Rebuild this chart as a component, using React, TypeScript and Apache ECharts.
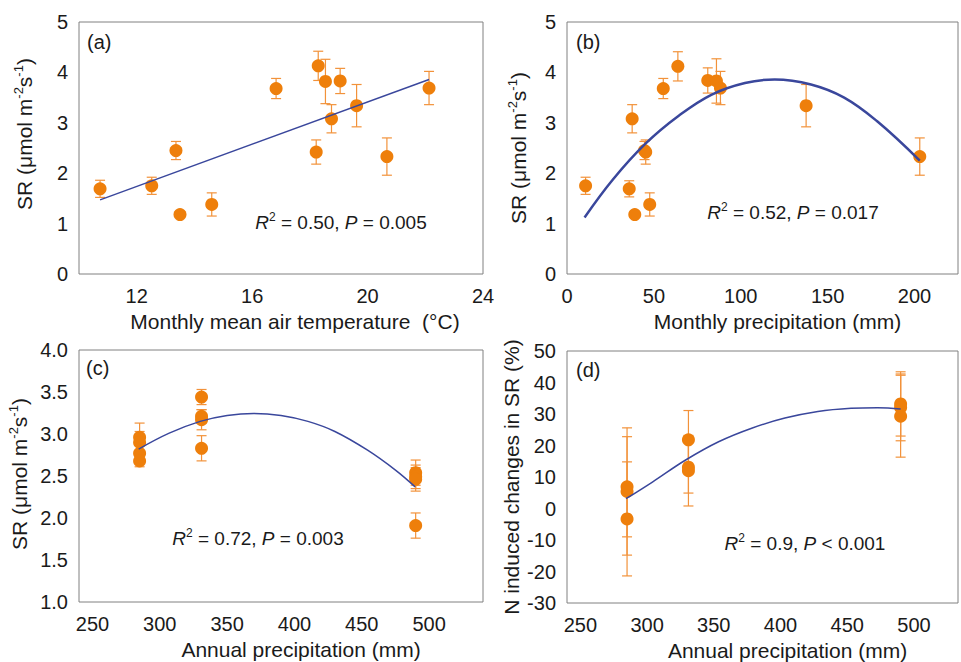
import React, { useEffect, useRef } from "react";
import * as echarts from "echarts";

// Panel (a): SR vs monthly mean air temperature
const aTemp = [10.73, 12.52, 13.36, 13.5, 14.6, 16.83, 18.29, 18.22, 18.54, 18.75, 19.05, 19.62, 20.67, 22.13];
const aSR = [1.69, 1.75, 2.45, 1.18, 1.38, 3.68, 4.13, 2.42, 3.82, 3.08, 3.83, 3.34, 2.33, 3.69];
const aErr = [0.17, 0.17, 0.18, 0.05, 0.23, 0.2, 0.29, 0.24, 0.44, 0.28, 0.25, 0.42, 0.37, 0.33];
const aFitX = [10.73, 22.13];
const aFitY = [1.47, 3.86];

// Panel (b): SR vs monthly precipitation
const bPrecip = [10.7, 35.8, 37.5, 39, 44.6, 45.3, 47.6, 55.4, 63.8, 81, 86, 88.3, 137.6, 203];
const bSR = [1.75, 1.69, 3.08, 1.18, 2.45, 2.42, 1.38, 3.68, 4.12, 3.84, 3.83, 3.69, 3.34, 2.33];
const bErr = [0.17, 0.16, 0.28, 0.05, 0.18, 0.24, 0.23, 0.2, 0.29, 0.25, 0.44, 0.33, 0.42, 0.37];
const bFitX = [10.1, 26.3, 45.3, 64.3, 83.3, 102.4, 119.5, 140.4, 159.5, 178.5, 203];
const bFitY = [1.12, 1.87, 2.59, 3.14, 3.56, 3.79, 3.86, 3.76, 3.5, 3.03, 2.25];

// Panel (c): SR vs annual precipitation
const cPrecip = [285, 285, 285, 285, 331, 331, 331, 331, 490, 490, 490, 490];
const cSR = [2.96, 2.9, 2.77, 2.68, 3.44, 3.21, 3.17, 2.83, 2.54, 2.49, 2.46, 1.91];
const cErr = [0.17, 0.13, 0.1, 0.07, 0.09, 0.08, 0.12, 0.15, 0.15, 0.14, 0.14, 0.15];
const cFitX = [284.3, 307, 330, 350, 369.7, 390, 410, 430, 454, 475, 489.6];
const cFitY = [2.82, 3.01, 3.15, 3.22, 3.245, 3.22, 3.15, 3.03, 2.81, 2.57, 2.37];

// Panel (d): N induced changes in SR vs annual precipitation
const dPrecip = [285, 285, 285, 331, 331, 331, 490, 490, 490];
const dChange = [6.9, 5.4, -3.3, 21.8, 13.1, 12.0, 33.2, 32.1, 29.3];
const dErr = [15.9, 20.2, 18.1, 9.3, 8.2, 11.2, 10.2, 10.6, 13.0];
const dFitX = [284.2, 304, 328.9, 353.6, 378.4, 403.3, 428, 452.8, 472.7, 490];
const dFitY = [3.1, 8.4, 15.4, 21.2, 25.5, 28.7, 30.8, 31.8, 32.0, 31.6];

const panelLabels = ["(a)", "(b)", "(c)", "(d)"];
const stats = [
  ["0.50", "=", "0.005"],
  ["0.52", "=", "0.017"],
  ["0.72", "=", "0.003"],
  ["0.9", "<", "0.001"],
];

const FONT = "'Liberation Sans', Arial, Helvetica, sans-serif";
const DOT = "#EE7F0B";
const BAR = "#F2923A";
const LINE = "#3A479C";
const TXT = "#1a1a1a";

const zip = (xs: number[], ys: number[]) => xs.map((x, i) => [x, ys[i]]);
const zip3 = (xs: number[], ys: number[], es: number[]) => xs.map((x, i) => [x, ys[i], es[i]]);

function errorSeries(idx: number, data: number[][]) {
  return {
    type: "custom",
    xAxisIndex: idx,
    yAxisIndex: idx,
    z: 1,
    silent: true,
    encode: { x: 0, y: 1 },
    data,
    renderItem: (params: any, api: any) => {
      const x = api.value(0);
      const y = api.value(1);
      const e = api.value(2);
      const top = api.coord([x, y + e]);
      const bot = api.coord([x, y - e]);
      const hw = 5;
      const style = { stroke: BAR, lineWidth: 1.2 };
      return {
        type: "group",
        children: [
          { type: "line", shape: { x1: top[0], y1: top[1], x2: bot[0], y2: bot[1] }, style },
          { type: "line", shape: { x1: top[0] - hw, y1: top[1], x2: top[0] + hw, y2: top[1] }, style },
          { type: "line", shape: { x1: bot[0] - hw, y1: bot[1], x2: bot[0] + hw, y2: bot[1] }, style },
        ],
      };
    },
  };
}

function scatterSeries(idx: number, data: number[][]) {
  return {
    type: "scatter",
    xAxisIndex: idx,
    yAxisIndex: idx,
    z: 2,
    symbol: "circle",
    symbolSize: 13,
    itemStyle: { color: DOT, opacity: 1 },
    data,
  };
}

function fitSeries(idx: number, data: number[][], width: number, smooth: boolean) {
  return {
    type: "line",
    xAxisIndex: idx,
    yAxisIndex: idx,
    z: 3,
    showSymbol: false,
    smooth: smooth ? 0.4 : false,
    lineStyle: { color: LINE, width },
    data,
  };
}

const supRich = {
  s: { fontSize: 13, lineHeight: 14, verticalAlign: "top", fontFamily: FONT, color: TXT },
};

function xAxisCfg(
  idx: number,
  min: number,
  max: number,
  interval: number,
  labelStep: number,
  labelMin: number,
  name: string,
  shift: number
) {
  return {
    type: "value",
    gridIndex: idx,
    min,
    max,
    interval,
    axisLine: { show: false },
    axisTick: { show: false },
    splitLine: { show: false },
    axisLabel: {
      fontSize: 20,
      fontFamily: FONT,
      color: TXT,
      margin: 12,
      formatter: (v: number) =>
        Math.abs(v / labelStep - Math.round(v / labelStep)) < 1e-6 && v >= labelMin ? String(v) : "",
    },
    name,
    nameLocation: "middle",
    nameGap: 37,
    nameTextStyle: { fontSize: 21, fontFamily: FONT, color: TXT, padding: [0, 0, 0, shift * 2] },
  };
}

function yAxisCfg(
  idx: number,
  min: number,
  max: number,
  interval: number,
  decimals: number,
  name: string,
  gap: number,
  shift: number
) {
  return {
    type: "value",
    gridIndex: idx,
    min,
    max,
    interval,
    axisLine: { show: false },
    axisTick: { show: false },
    splitLine: { show: false },
    axisLabel: {
      fontSize: 20,
      fontFamily: FONT,
      color: TXT,
      margin: 11,
      formatter: (v: number) => v.toFixed(decimals),
    },
    name,
    nameLocation: "middle",
    nameGap: gap,
    nameTextStyle: {
      fontSize: 21,
      lineHeight: 24,
      fontFamily: FONT,
      color: TXT,
      rich: supRich,
      padding: shift > 0 ? [0, 0, 0, shift * 2] : shift < 0 ? [0, -shift * 2, 0, 0] : 0,
    },
  };
}

const SR_NAME = "SR (μmol m{s|-2}s{s|-1})";

function statText(x: number, y: number, s: string[]) {
  return {
    type: "text",
    x,
    y,
    z: 10,
    style: {
      text: `{i|R}{s|2}{n| = ${s[0]}, }{i|P}{n| ${s[1]} ${s[2]}}`,
      align: "center",
      verticalAlign: "middle",
      rich: {
        i: { fontSize: 19, fontStyle: "italic", fontFamily: FONT, fill: TXT, lineHeight: 22 },
        n: { fontSize: 19, fontFamily: FONT, fill: TXT, lineHeight: 22 },
        s: { fontSize: 12, fontFamily: FONT, fill: TXT, lineHeight: 13, verticalAlign: "top" },
      },
    },
  };
}

function labelText(x: number, y: number, t: string) {
  return {
    type: "text",
    x,
    y,
    z: 10,
    style: { text: t, fontSize: 20, fontFamily: FONT, fill: TXT, align: "left", verticalAlign: "middle" },
  };
}

export default function App() {
  const ref = useRef<HTMLDivElement>(null);
  useEffect(() => {
    if (!ref.current) return;
    const chart = echarts.init(ref.current, undefined, { renderer: "svg" });
    const gridBase = { show: true, borderColor: "#808080", borderWidth: 1, backgroundColor: "transparent" };
    chart.setOption({
      animation: false,
      backgroundColor: "#ffffff",
      textStyle: { fontFamily: FONT },
      grid: [
        { ...gridBase, left: 79, top: 22, width: 404, height: 252 },
        { ...gridBase, left: 567, top: 22, width: 394, height: 252 },
        { ...gridBase, left: 79, top: 350, width: 404, height: 252 },
        { ...gridBase, left: 567, top: 351, width: 394, height: 252 },
      ],
      xAxis: [
        xAxisCfg(0, 10, 24, 2, 4, 12, "Monthly mean air temperature  (°C)", 14),
        xAxisCfg(1, 0, 225, 25, 50, 0, "Monthly precipitation (mm)", 15),
        xAxisCfg(2, 240, 540, 10, 50, 250, "Annual precipitation (mm)", 20),
        xAxisCfg(3, 240, 533, 10, 50, 250, "Annual precipitation (mm)", 25),
      ],
      yAxis: [
        yAxisCfg(0, 0, 5, 1, 0, SR_NAME, 43, 14),
        yAxisCfg(1, 0, 5, 1, 0, SR_NAME, 37, 0),
        yAxisCfg(2, 1, 4, 0.5, 1, SR_NAME, 48, 2),
        yAxisCfg(3, -30, 50, 10, 0, "N induced changes in SR (%)", 43, 0),
      ],
      series: [
        errorSeries(0, zip3(aTemp, aSR, aErr)),
        scatterSeries(0, zip(aTemp, aSR)),
        fitSeries(0, zip(aFitX, aFitY), 1.5, false),
        errorSeries(1, zip3(bPrecip, bSR, bErr)),
        scatterSeries(1, zip(bPrecip, bSR)),
        fitSeries(1, zip(bFitX, bFitY), 2.5, true),
        errorSeries(2, zip3(cPrecip, cSR, cErr)),
        scatterSeries(2, zip(cPrecip, cSR)),
        fitSeries(2, zip(cFitX, cFitY), 1.5, true),
        errorSeries(3, zip3(dPrecip, dChange, dErr)),
        scatterSeries(3, zip(dPrecip, dChange)),
        fitSeries(3, zip(dFitX, dFitY), 1.5, true),
      ],
      graphic: [
        labelText(87, 42, panelLabels[0]),
        labelText(576, 42, panelLabels[1]),
        labelText(86, 368, panelLabels[2]),
        labelText(576, 370, panelLabels[3]),
        statText(341, 222, stats[0]),
        statText(793, 212, stats[1]),
        statText(258, 538, stats[2]),
        statText(805, 543, stats[3]),
      ],
    });
    return () => chart.dispose();
  }, []);
  return (
    <div
      ref={ref}
      style={{ position: "absolute", left: 0, top: 0, width: 961, height: 662, background: "#fff" }}
    />
  );
}
